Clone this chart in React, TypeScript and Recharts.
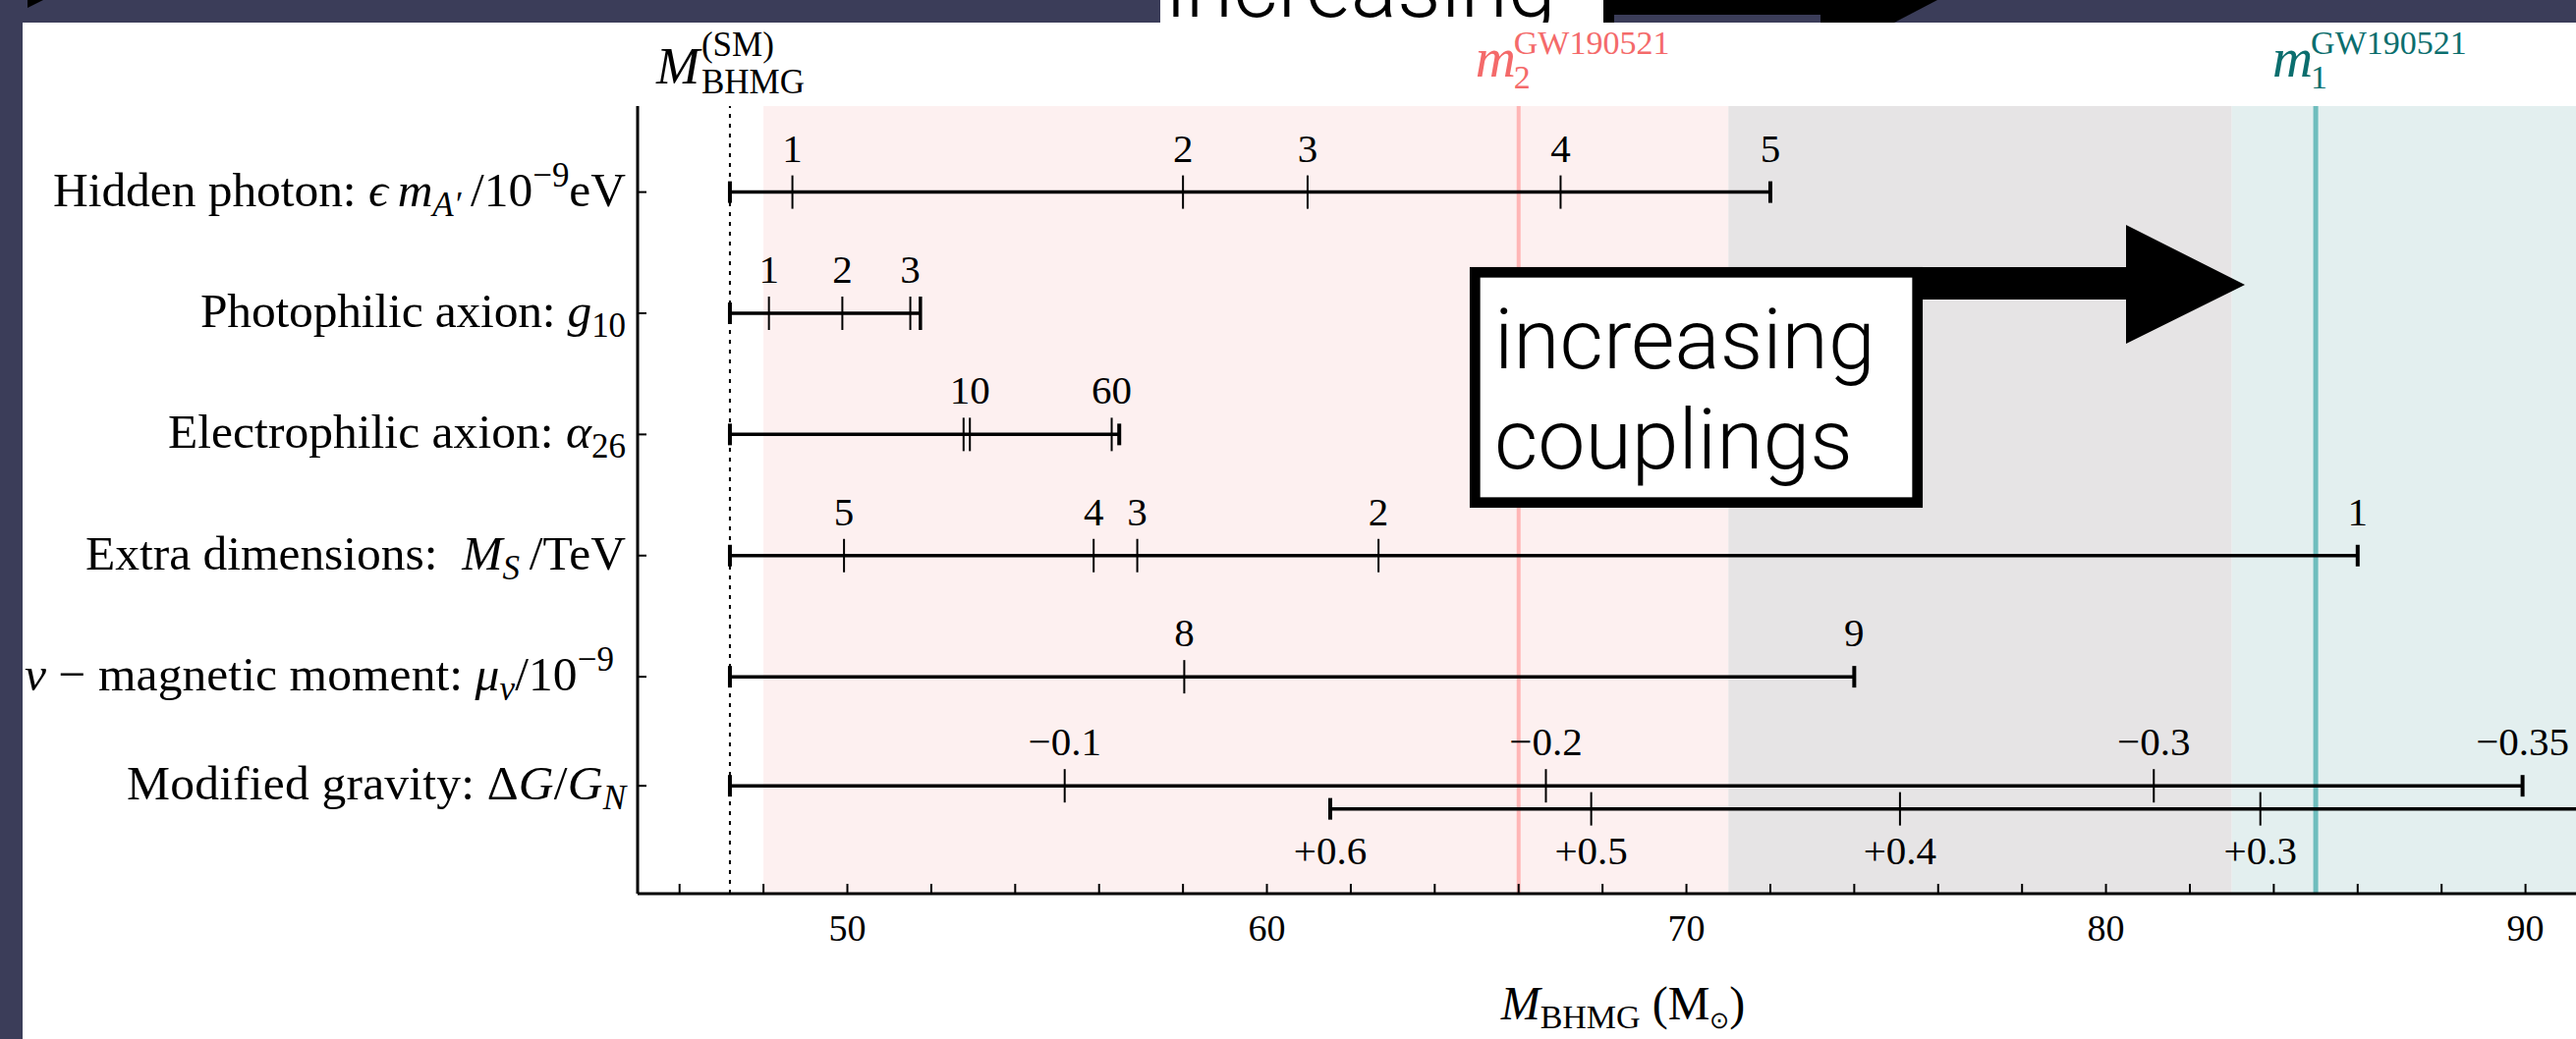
import React from 'react';
import { ComposedChart, XAxis, YAxis, Line, Scatter, ReferenceLine, ReferenceArea } from 'recharts';

const SERIF = "'Liberation Serif', 'Times New Roman', serif";
const SANS = "Roboto, 'Liberation Sans', sans-serif";

// ---- axes ----
const xDomain: [number, number] = [45, 92];
const yDomain: [number, number] = [0.29, 6.79];
const xMinorTicks = [46, 48, 50, 52, 54, 56, 58, 60, 62, 64, 66, 68, 70, 72, 74, 76, 78, 80, 82, 84, 86, 88, 90, 92];
const xMajorTicks = [50, 60, 70, 80, 90];

// ---- categories (rows) ----
const rowCategories = ['hiddenPhoton', 'photophilicAxion', 'electrophilicAxion', 'extraDimensions', 'nuMagneticMoment', 'modifiedGravity'];
const rowPositions = [1, 2, 3, 4, 5, 5.9];
const modGravityPlusPosition = 6.09;

// ---- reference masses ----
const mBHMG_SM = 47.2;
const m2GW190521 = 66;
const m1GW190521 = 85;
const m2Range = [48, 83];
const m1Range = [71, 106];

// ---- series (mass value, coupling label, bound type) ----
const hiddenPhotonMarks = [
  { x: 47.2, text: '', kind: 'cap' },
  { x: 48.69, text: '1', kind: 'tick' },
  { x: 58.0, text: '2', kind: 'tick' },
  { x: 60.97, text: '3', kind: 'tick' },
  { x: 67.0, text: '4', kind: 'tick' },
  { x: 72.0, text: '5', kind: 'cap' },
];
const photophilicMarks = [
  { x: 47.2, text: '', kind: 'cap' },
  { x: 48.13, text: '1', kind: 'tick' },
  { x: 49.88, text: '2', kind: 'tick' },
  { x: 51.5, text: '3', kind: 'tick' },
  { x: 51.74, text: '', kind: 'tallcap' },
];
const electrophilicMarks = [
  { x: 47.2, text: '', kind: 'cap' },
  { x: 52.77, text: '', kind: 'tick' },
  { x: 52.92, text: '10', kind: 'tick' },
  { x: 56.3, text: '60', kind: 'tick' },
  { x: 56.48, text: '', kind: 'cap' },
];
const extraDimensionsMarks = [
  { x: 47.2, text: '', kind: 'cap' },
  { x: 49.92, text: '5', kind: 'tick' },
  { x: 55.87, text: '4', kind: 'tick' },
  { x: 56.91, text: '3', kind: 'tick' },
  { x: 62.66, text: '2', kind: 'tick' },
  { x: 86.0, text: '1', kind: 'cap' },
];
const nuMomentMarks = [
  { x: 47.2, text: '', kind: 'cap' },
  { x: 58.03, text: '8', kind: 'tick' },
  { x: 74.0, text: '9', kind: 'cap' },
];
const modGravityMinusMarks = [
  { x: 47.2, text: '', kind: 'cap' },
  { x: 55.18, text: '\u22120.1', kind: 'tick' },
  { x: 66.65, text: '\u22120.2', kind: 'tick' },
  { x: 81.14, text: '\u22120.3', kind: 'tick' },
  { x: 89.93, text: '\u22120.35', kind: 'cap' },
];
const modGravityPlusMarks = [
  { x: 61.51, text: '+0.6', kind: 'cap' },
  { x: 67.73, text: '+0.5', kind: 'tick' },
  { x: 75.09, text: '+0.4', kind: 'tick' },
  { x: 83.68, text: '+0.3', kind: 'tick' },
  { x: 92, text: '', kind: 'none' },
];

const rowMarks = [hiddenPhotonMarks, photophilicMarks, electrophilicMarks, extraDimensionsMarks, nuMomentMarks, modGravityMinusMarks];

type Row = { id: string; y: number; below: boolean; marks: { x: number; text: string; kind: string }[] };
const rows: Row[] = [
  ...rowCategories.map((id, i) => ({ id, y: rowPositions[i], below: false, marks: rowMarks[i] })),
  { id: 'modifiedGravityPlus', y: modGravityPlusPosition, below: true, marks: modGravityPlusMarks },
];

const topLabelData = [
  { x: mBHMG_SM, y: yDomain[0], which: 'sm' },
  { x: m2GW190521, y: yDomain[0], which: 'm2' },
  { x: m1GW190521, y: yDomain[0], which: 'm1' },
];

const M2_COLOR = '#f46a6a';
const M1_COLOR = '#0b6e6e';

const MarkShape = (props: any) => {
  const { cx, cy } = props;
  const p = props.payload || props;
  if (cx == null || cy == null) return <g />;
  const els: any[] = [];
  if (p.kind === 'tick') {
    els.push(<line key="t" x1={cx} x2={cx} y1={cy - 17} y2={cy + 17} stroke="#000" strokeWidth={2} />);
  } else if (p.kind === 'cap') {
    els.push(<line key="c" x1={cx} x2={cx} y1={cy - 11} y2={cy + 11} stroke="#000" strokeWidth={4} />);
  } else if (p.kind === 'tallcap') {
    els.push(<line key="c" x1={cx} x2={cx} y1={cy - 17} y2={cy + 17} stroke="#000" strokeWidth={3.5} />);
  }
  if (p.text) {
    els.push(
      <text key="l" x={cx} y={p.below ? cy + 56 : cy - 31} textAnchor="middle" fontFamily={SERIF} fontSize={41} fill="#000">
        {p.text}
      </text>
    );
  }
  return <g>{els}</g>;
};

const TopLabelShape = (props: any) => {
  const { cx, cy } = props;
  const p = props.payload || props;
  if (cx == null || cy == null) return <g />;
  if (p.which === 'sm') {
    return (
      <g fontFamily={SERIF} fill="#000">
        <text x={cx - 75} y={cy - 23} fontSize={53} fontStyle="italic">M</text>
        <text x={cx - 29} y={cy - 51} fontSize={35}>(SM)</text>
        <text x={cx - 29} y={cy - 13} fontSize={35}>BHMG</text>
      </g>
    );
  }
  const color = p.which === 'm2' ? M2_COLOR : M1_COLOR;
  return (
    <g fontFamily={SERIF} fill={color}>
      <text x={cx - 44} y={cy - 30} fontSize={57} fontStyle="italic">m</text>
      <text x={cx - 5} y={cy - 53} fontSize={34}>GW190521</text>
      <text x={cx - 5} y={cy - 18} fontSize={34}>{p.which === 'm2' ? '2' : '1'}</text>
    </g>
  );
};

const rowLabelWidths = [583, 433, 466, 550, 600, 508];

const renderRowLabel = (idx: number, x: number, y: number) => {
  const common = {
    x: idx === 4 ? x - 12 : x,
    y,
    textAnchor: 'end' as const,
    fontFamily: SERIF,
    fontSize: 49.5,
    fill: '#000',
    textLength: rowLabelWidths[idx],
    lengthAdjust: 'spacing',
    style: { whiteSpace: 'pre' as const },
  };
  switch (idx) {
    case 0:
      return (
        <text {...common}>
          Hidden photon: <tspan fontStyle="italic">{'\u03f5\u2009m'}</tspan>
          <tspan fontStyle="italic" fontSize={35} dy={10}>{'A\u2032'}</tspan>
          <tspan dy={-10}>{'\u2009/10'}</tspan>
          <tspan fontSize={35} dy={-20}>{'\u22129'}</tspan>
          <tspan dy={20}>eV</tspan>
        </text>
      );
    case 1:
      return (
        <text {...common}>
          Photophilic axion: <tspan fontStyle="italic">g</tspan>
          <tspan fontSize={35} dy={10}>10</tspan>
        </text>
      );
    case 2:
      return (
        <text {...common}>
          Electrophilic axion: <tspan fontStyle="italic">{'\u03b1'}</tspan>
          <tspan fontSize={35} dy={10}>26</tspan>
        </text>
      );
    case 3:
      return (
        <text {...common}>
          {'Extra dimensions:  '}<tspan fontStyle="italic">M</tspan>
          <tspan fontStyle="italic" fontSize={35} dy={10}>S</tspan>
          <tspan dy={-10}>{'\u2009/TeV'}</tspan>
        </text>
      );
    case 4:
      return (
        <text {...common}>
          <tspan fontStyle="italic">{'\u03bd'}</tspan>{' \u2212 magnetic moment: '}<tspan fontStyle="italic">{'\u03bc'}</tspan>
          <tspan fontStyle="italic" fontSize={35} dy={10}>{'\u03bd'}</tspan>
          <tspan dy={-10}>/10</tspan>
          <tspan fontSize={35} dy={-20}>{'\u22129'}</tspan>
        </text>
      );
    case 5:
      return (
        <text {...common}>
          {'Modified gravity: \u0394'}<tspan fontStyle="italic">G</tspan>/<tspan fontStyle="italic">G</tspan>
          <tspan fontStyle="italic" fontSize={35} dy={10}>N</tspan>
        </text>
      );
    default:
      return null;
  }
};

const YTick = (props: any) => {
  const { x, y, payload } = props;
  const idx = rowPositions.findIndex((v) => Math.abs(v - payload.value) < 1e-6);
  return (
    <g>
      <line x1={x} x2={x + 9} y1={y} y2={y} stroke="#000" strokeWidth={2} />
      {renderRowLabel(idx, x - 12, y + 14)}
    </g>
  );
};

const XTickBottom = (props: any) => {
  const { x, y, payload } = props;
  return (
    <g>
      <line x1={x} x2={x} y1={y} y2={y - 10} stroke="#000" strokeWidth={2} />
      {xMajorTicks.includes(payload.value) && (
        <text x={x} y={y + 48} textAnchor="middle" fontFamily={SERIF} fontSize={38} fill="#000">
          {payload.value}
        </text>
      )}
    </g>
  );
};

const XTickTop = (props: any) => {
  const { x, y } = props;
  return <line x1={x} x2={x} y1={y} y2={y + 10} stroke="#000" strokeWidth={2} />;
};

export default function App() {
  const slate = '#3b3d59';
  return (
    <div style={{ position: 'fixed', left: 0, top: 0, width: 2622, height: 1058, overflow: 'hidden', background: slate }}>
      <div style={{ position: 'absolute', left: 23, top: 23, right: 0, bottom: 0, background: '#fff' }} />
      <div style={{ position: 'absolute', left: 0, top: 0 }}>
        <ComposedChart width={2700} height={1058} margin={{ top: 108, right: 44, bottom: 0, left: 0 }}>
          <XAxis
            xAxisId={0}
            type="number"
            dataKey="x"
            domain={xDomain}
            ticks={xMinorTicks}
            interval={0}
            height={148}
            tickSize={0}
            tickMargin={0}
            tickLine={false}
            axisLine={{ stroke: '#000', strokeWidth: 3 }}
            tick={<XTickBottom />}
          />
          <XAxis
            xAxisId="top"
            orientation="top"
            type="number"
            dataKey="x"
            domain={xDomain}
            ticks={xMinorTicks}
            interval={0}
            height={0}
            tickSize={0}
            tickMargin={0}
            tickLine={false}
            axisLine={{ stroke: '#000', strokeWidth: 3 }}
            tick={<XTickTop />}
          />
          <YAxis
            type="number"
            dataKey="y"
            domain={yDomain}
            reversed
            ticks={rowPositions}
            interval={0}
            width={649}
            tickSize={0}
            tickMargin={0}
            tickLine={false}
            axisLine={{ stroke: '#000', strokeWidth: 3 }}
            tick={<YTick />}
          />
          <ReferenceArea x1={m2Range[0]} x2={m1Range[0]} fill="#fdf0f0" fillOpacity={1} stroke="none" />
          <ReferenceArea x1={m1Range[0]} x2={m2Range[1]} fill="#e6e4e5" fillOpacity={1} stroke="none" />
          <ReferenceArea x1={m2Range[1]} x2={Math.min(m1Range[1], xDomain[1])} fill="#e3efef" fillOpacity={1} stroke="none" />
          <ReferenceLine x={mBHMG_SM} stroke="#000" strokeWidth={2} strokeDasharray="4 6" />
          <ReferenceLine x={m2GW190521} stroke="#ffb6b6" strokeWidth={4} />
          <ReferenceLine x={m1GW190521} stroke="#6fbdbd" strokeWidth={5} />
          {rows.map((r) => (
            <Line
              key={'line-' + r.id}
              data={[{ x: r.marks[0].x, y: r.y }, { x: r.marks[r.marks.length - 1].x, y: r.y }]}
              dataKey="y"
              stroke="#000"
              strokeWidth={3.5}
              dot={false}
              activeDot={false}
              isAnimationActive={false}
            />
          ))}
          {rows.map((r) => (
            <Scatter
              key={'marks-' + r.id}
              data={r.marks.map((m) => ({ ...m, y: r.y, below: r.below }))}
              shape={<MarkShape />}
              isAnimationActive={false}
            />
          ))}
          <Scatter data={topLabelData} shape={<TopLabelShape />} isAnimationActive={false} />
        </ComposedChart>
      </div>
      <svg width={2622} height={1058} style={{ position: 'absolute', left: 0, top: 0, pointerEvents: 'none' }}>
        {/* slide decorations in the top strip */}
        <polygon points="28,0 44,0 28,8" fill="#000" />
        <rect x={1181} y={0} width={451} height={23} fill="#fff" />
        <svg x={1181} y={0} width={451} height={23} overflow="hidden">
          <text x={6} y={17} fontFamily={SANS} fontWeight={300} fontSize={88} fill="#000">increasing</text>
        </svg>
        <rect x={1632} y={0} width={11} height={23} fill="#000" />
        <rect x={1643} y={0} width={210} height={15} fill="#000" />
        <polygon points="1853,0 1972,0 1928,23 1853,23" fill="#000" />
        {/* increasing couplings box with arrow */}
        <polygon points="1946,272 2164,272 2164,229 2285,290 2164,350 2164,305 1946,305" fill="#000" />
        <rect x={1501.3} y={277.3} width={450.4} height={234.4} fill="#fff" stroke="#000" strokeWidth={10.7} />
        <text x={1521} y={375} fontFamily={SANS} fontWeight={300} fontSize={86} fill="#000">increasing</text>
        <text x={1521} y={477} fontFamily={SANS} fontWeight={300} fontSize={86} fill="#000">couplings</text>
        {/* x axis title */}
        <text x={1652} y={1038} textAnchor="middle" fontFamily={SERIF} fontSize={48} fill="#000">
          <tspan fontStyle="italic">M</tspan>
          <tspan fontSize={34} dy={9}>BHMG</tspan>
          <tspan dy={-9}>{' (M'}</tspan>
          <tspan fontSize={24} dy={9}>{'\u2299'}</tspan>
          <tspan dy={-9}>)</tspan>
        </text>
      </svg>
    </div>
  );
}
